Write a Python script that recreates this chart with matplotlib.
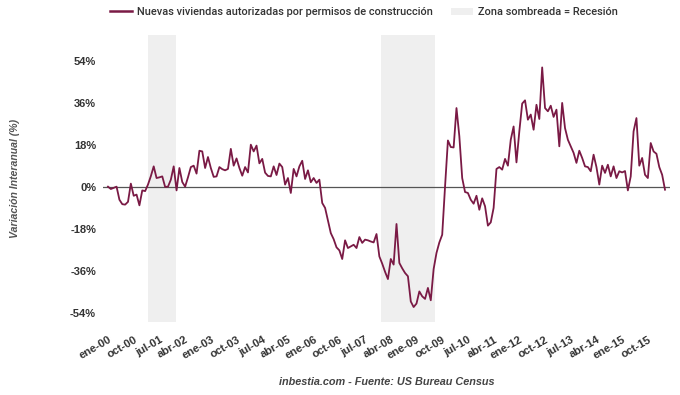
import matplotlib
matplotlib.use("Agg")
import matplotlib.pyplot as plt
from matplotlib.lines import Line2D
from matplotlib.patches import Patch
import numpy as np

# Monthly year-over-year change (%), Jan 2000 - Apr 2016
values = [
    0, -1, -0.5, 0, -5.6, -7.5, -7.7, -6.5, 1.3, -3.9, -3.4, -8,
    -1.6, -1.9, 0.9, 4.5, 8.7, 3.7, 4, 4.4, -0.1, 0, 3, 8.7,
    -1.6, 8, 2, 0, 4, 8.4, 9, 5.6, 15.4, 15.1, 8, 12.7,
    8, 4.2, 4.4, 8.4, 7.5, 7, 7.6, 16.2, 9, 12.1, 8, 4.7,
    8.4, 6.1, 18, 15.1, 17.6, 10, 11.9, 6, 4.6, 4.4, 8.7, 5,
    9.9, 8.4, 0.9, 3.7, -2.7, 7.6, 4.4, 8.7, 11.1, 3.3, 7, 1.9,
    3.7, 1.6, 3, -7, -9.1, -14.5, -19.9, -22.5, -26, -27.3, -31, -23,
    -26.3, -25.6, -24.9, -26.3, -21.6, -24.1, -22.7, -23, -23.5, -23.9, -20.3, -29.9,
    -33, -36.5, -39.6, -31, -33.4, -16, -32.7, -35, -37, -38.4, -49.2, -51.6,
    -50.1, -44.9, -47, -48.1, -43.4, -48.7, -35.3, -28.4, -23.9, -20.6, 0.1, 19.8,
    17, 16.8, 33.7, 21.6, 3.7, -2.3, -2.7, -5.6, -7.3, -3.9, -9.9, -5,
    -8.4, -16.7, -15.3, -9.1, 7.6, 8.4, 7.3, 11.9, 9, 20.1, 25.8, 10.4,
    23.7, 35.6, 37, 28.7, 30.9, 24.4, 35.1, 29, 51.1, 33.7, 32.3, 34.7,
    29.9, 33, 17.3, 35.9, 25.1, 20.1, 17.3, 14.5, 10.2, 15.4, 12.3, 8.7,
    8.4, 6.6, 13.7, 8.4, 0.9, 9, 5.9, 9.4, 4.4, 8.7, 3.7, 6.6,
    6.1, 6.7, -1.6, 4.4, 23.7, 29.4, 9, 12.3, 5.1, 3.7, 18.7, 15.1,
    14.1, 8.4, 5.1, -1.3,
]
months = np.arange(len(values))  # month index from Jan 2000

tick_labels = ["ene-00", "oct-00", "jul-01", "abr-02", "ene-03", "oct-03", "jul-04",
               "abr-05", "ene-06", "oct-06", "jul-07", "abr-08", "ene-09", "oct-09",
               "jul-10", "abr-11", "ene-12", "oct-12", "jul-13", "abr-14", "ene-15", "oct-15"]
tick_months = [9 * i for i in range(len(tick_labels))]

# Recessions (month index start, end)
recessions = [(14, 23.8), (95.5, 114.5)]

y_ticks = [-54, -36, -18, 0, 18, 36, 54]

line_color = "#7a1a45"
shade_color = "#efefef"
text_color = "#333333"

plt.rcParams["font.family"] = ["Liberation Sans", "DejaVu Sans"]

fig = plt.figure(figsize=(6.8, 3.95), dpi=100)
ax = fig.add_axes([103 / 680, 1 - 322 / 395, (670 - 103) / 680, (322 - 35) / 395])

for s, e in recessions:
    ax.axvspan(s, e, color=shade_color, lw=0, zorder=0)

ax.axhline(0, color="#555555", lw=0.9, zorder=1)
ax.plot(months, values, color=line_color, lw=1.3, zorder=2)

ax.set_xlim(-1.75, 196.75)
ax.set_ylim(-58, 65)

ax.set_yticks(y_ticks)
ax.set_yticklabels([f"{v}%" for v in y_ticks], fontsize=8, fontweight="bold", color=text_color)
ax.set_xticks(tick_months)
ax.set_xticklabels(tick_labels, rotation=30, ha="right", rotation_mode="anchor",
                   fontsize=8, fontweight="bold", color=text_color)
ax.tick_params(axis="y", length=0, pad=5)
ax.tick_params(axis="x", length=0, pad=9)
for sp in ax.spines.values():
    sp.set_visible(False)

fig.text(15 / 680, 1 - 178 / 395, "Variación Interanual (%)", rotation=90, ha="center", va="center",
         fontsize=7.6, fontstyle="italic", fontweight="bold", color="#555555")
fig.text(387 / 680, 1 - 382 / 395, "inbestia.com - Fuente: US Bureau Census", ha="center", va="center",
         fontsize=7.8, fontstyle="italic", fontweight="bold", color="#444444")

handles = [Line2D([0], [0], color=line_color, lw=1.8),
           Patch(facecolor=shade_color, edgecolor="none")]
fig.legend(handles, ["Nuevas viviendas autorizadas por permisos de construcción",
                     "Zona sombreada = Recesión"],
           loc="center", bbox_to_anchor=(364 / 680, 1 - 12 / 395), ncol=2, frameon=False,
           prop={"family": "Roboto", "size": 7.9, "weight": "medium"}, labelcolor=text_color,
           handlelength=2.0, handleheight=0.6, columnspacing=1.6, handletextpad=0.5)

fig.savefig("out.png", dpi=100)
